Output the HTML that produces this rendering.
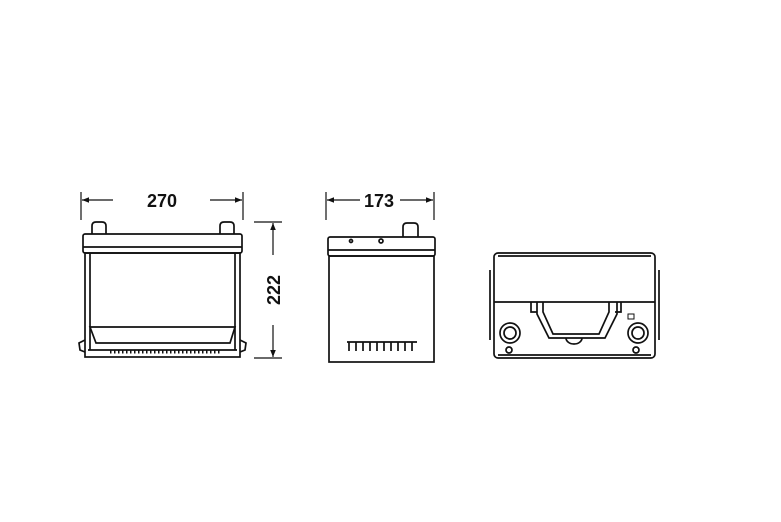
<!DOCTYPE html>
<html><head><style>html,body{margin:0;padding:0;background:#fff}svg{display:block}</style></head>
<body>
<svg width="781" height="522" viewBox="0 0 781 522" xmlns="http://www.w3.org/2000/svg" fill="none" stroke="#111" stroke-width="1.7">
<defs><marker id="a" viewBox="0 0 10 10" refX="10" refY="5" markerWidth="6" markerHeight="6" orient="auto-start-reverse"><path d="M0,1 L10,5 L0,9z" fill="#111" stroke="none"/></marker></defs>
<line x1="81" y1="192" x2="81" y2="220" stroke-width="1.2"/><line x1="243" y1="192" x2="243" y2="220" stroke-width="1.2"/>
<line x1="113" y1="200" x2="82" y2="200" marker-end="url(#a)" stroke-width="1.2"/><line x1="210" y1="200" x2="242" y2="200" marker-end="url(#a)" stroke-width="1.2"/>
<text x="162" y="207" font-family="Liberation Sans" font-weight="bold" font-size="18" text-anchor="middle" fill="#111" stroke="none">270</text>
<path d="M92,234 v-8 q0,-4 4,-4 h6 q4,0 4,4 v8"/><path d="M220,234 v-8 q0,-4 4,-4 h6 q4,0 4,4 v8"/>
<rect x="83" y="234" width="159" height="19" rx="2"/>
<line x1="83" y1="247" x2="242" y2="247"/>
<rect x="85" y="253" width="155" height="104"/>
<line x1="90" y1="253" x2="90" y2="350"/><line x1="235" y1="253" x2="235" y2="350"/>
<path d="M90,327 H235 L230,343 H96 Z"/>
<line x1="88" y1="350" x2="237" y2="350"/>
<path d="M85,340 L79,343 L80,350 L85,352"/><path d="M240,340 L246,343 L245,350 L240,352"/>
<path d="M110,352 H220" stroke-dasharray="1.5 2.5" stroke-width="3"/>
<line x1="254" y1="222" x2="282" y2="222" stroke-width="1.2"/><line x1="254" y1="358" x2="282" y2="358" stroke-width="1.2"/>
<line x1="273" y1="255" x2="273" y2="223" marker-end="url(#a)" stroke-width="1.2"/><line x1="273" y1="325" x2="273" y2="357" marker-end="url(#a)" stroke-width="1.2"/>
<text transform="translate(280,290) rotate(-90)" font-family="Liberation Sans" font-weight="bold" font-size="18" text-anchor="middle" fill="#111" stroke="none">222</text>
<line x1="326" y1="192" x2="326" y2="220" stroke-width="1.2"/><line x1="434" y1="192" x2="434" y2="220" stroke-width="1.2"/>
<line x1="360" y1="200" x2="327" y2="200" marker-end="url(#a)" stroke-width="1.2"/><line x1="400" y1="200" x2="433" y2="200" marker-end="url(#a)" stroke-width="1.2"/>
<text x="379" y="207" font-family="Liberation Sans" font-weight="bold" font-size="18" text-anchor="middle" fill="#111" stroke="none">173</text>
<path d="M403,237 v-10 q0,-4 4,-4 h7 q4,0 4,4 v10"/>
<rect x="328" y="237" width="107" height="19" rx="2"/>
<line x1="328" y1="250" x2="435" y2="250"/>
<rect x="329" y="256" width="105" height="106"/>
<circle cx="351" cy="241" r="1.5"/><circle cx="381" cy="241" r="2"/>
<line x1="347" y1="342" x2="417" y2="342"/>
<path d="M349,342 v9 M356,342 v9 M363,342 v9 M370,342 v9 M377,342 v9 M384,342 v9 M391,342 v9 M398,342 v9 M405,342 v9 M412,342 v9"/>
<rect x="494" y="253" width="161" height="105" rx="4"/>
<line x1="498" y1="256" x2="651" y2="256"/><line x1="498" y1="355" x2="651" y2="355"/>
<line x1="494" y1="302" x2="655" y2="302"/>
<path d="M490,270 v70 M659,270 v70"/>
<path d="M531,302 v10 h6 M621,302 v10 h-6"/>
<path d="M537,302 v12 l12,24 h56 l12,-24 v-12"/>
<path d="M543,302 v10 l10,22 h46 l10,-22 v-10"/>
<path d="M566,338 a8,6 0 0 0 16,0"/>
<circle cx="510" cy="333" r="10"/><circle cx="510" cy="333" r="6"/>
<circle cx="638" cy="333" r="10"/><circle cx="638" cy="333" r="6"/>
<circle cx="509" cy="350" r="3"/><circle cx="636" cy="350" r="3"/>
<rect x="628" y="314" width="6" height="5" stroke-width="1"/>
</svg>
</body></html>
